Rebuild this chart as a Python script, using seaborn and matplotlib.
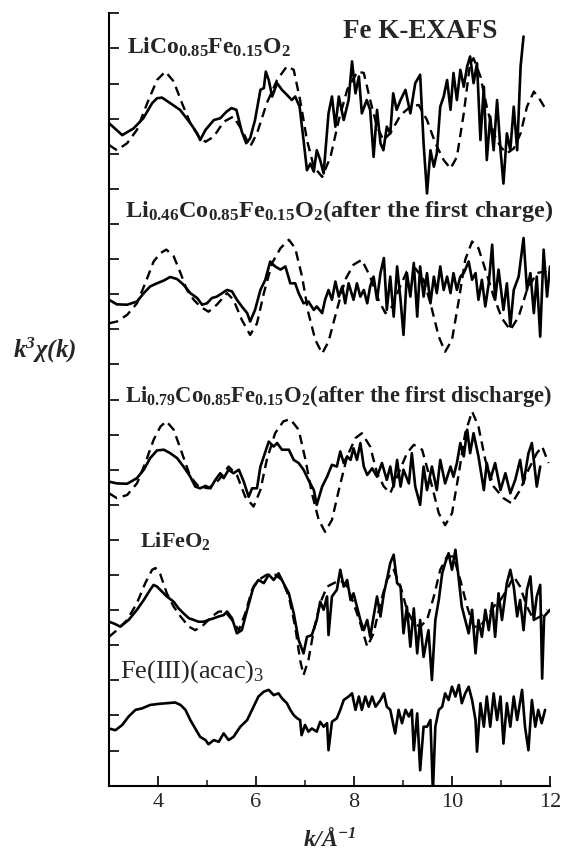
import matplotlib
matplotlib.use("Agg")
import matplotlib.pyplot as plt
import seaborn as sns
import pandas as pd
from matplotlib.ticker import MultipleLocator

# --- data: k (1/A) and k^3 chi(k) in arbitrary units ---
# LiCo0.85Fe0.15O2
k1_exp = [3.0, 3.27, 3.5, 3.7, 3.88, 3.98, 4.08, 4.25, 4.45, 4.66,
          4.8, 4.86, 4.97, 5.14, 5.27, 5.4, 5.5, 5.6, 5.71, 5.8,
          5.88, 5.98, 6.09, 6.16, 6.2, 6.26, 6.33, 6.43, 6.53, 6.63,
          6.73, 6.8, 6.89, 6.97, 7.04, 7.11, 7.18, 7.24, 7.31, 7.38,
          7.48, 7.55, 7.62, 7.69, 7.79, 7.89, 7.96, 8.03, 8.1, 8.16,
          8.26, 8.33, 8.4, 8.47, 8.54, 8.6, 8.67, 8.74, 8.8, 8.87,
          8.95, 9.05, 9.15, 9.25, 9.35, 9.42, 9.49, 9.56, 9.63, 9.69,
          9.76, 9.83, 9.9, 9.97, 10.03, 10.1, 10.17, 10.24, 10.31, 10.37,
          10.44, 10.51, 10.58, 10.65, 10.71, 10.78, 10.85, 10.92, 10.99, 11.05,
          11.12, 11.19, 11.26, 11.33, 11.4, 11.46]
chi1_exp = [-0.13, -0.47, -0.28, 0.01, 0.44, 0.58, 0.60, 0.44, 0.25, -0.13,
            -0.42, -0.61, -0.32, -0.04, 0.01, 0.20, 0.30, 0.25, -0.37, -0.70,
            -0.56, -0.04, 0.82, 0.87, 1.34, 1.10, 0.63, 1.01, 0.82, 0.68,
            0.53, 0.63, 0.34, -0.61, -1.47, -1.28, -1.51, -0.90, -1.18, -1.56,
            0.15, 0.63, -0.23, 0.63, -0.04, 0.53, 1.63, 0.72, 1.20, 0.15,
            0.53, 0.25, -1.09, 0.25, -0.70, -0.90, -0.23, -0.42, 0.72, 0.25,
            0.53, 0.82, 0.15, 1.01, 1.25, -0.70, -2.13, -0.90, -1.37, -0.99,
            0.34, 0.63, 1.10, 0.25, 1.30, 0.53, 1.39, 0.91, 1.49, 1.77,
            1.01, 1.58, -0.61, 0.91, -1.18, 0.06, -0.90, 0.53, -0.90, -1.85,
            -0.42, -0.90, 0.34, -0.90, 1.49, 2.34]
k1_fit = [3.0, 3.16, 3.37, 3.57, 3.78, 3.98, 4.15, 4.32, 4.49, 4.66,
          4.83, 4.97, 5.14, 5.34, 5.54, 5.71, 5.88, 6.02, 6.22, 6.43,
          6.63, 6.77, 6.9, 7.04, 7.18, 7.35, 7.52, 7.69, 7.86, 8.07,
          8.2, 8.33, 8.47, 8.6, 8.74, 8.95, 9.15, 9.32, 9.49, 9.66,
          9.83, 9.97, 10.1, 10.24, 10.37, 10.44, 10.58, 10.71, 10.85, 10.99,
          11.12, 11.26, 11.4, 11.53, 11.67, 11.8, 11.94]
chi1_fit = [-0.75, -0.90, -0.70, -0.32, 0.44, 1.10, 1.34, 1.06, 0.44, -0.13,
            -0.51, -0.66, -0.51, -0.09, 0.06, -0.32, -0.80, -0.42, 0.44, 1.10,
            1.49, 1.39, 0.53, -0.61, -1.37, -1.66, -1.09, -0.04, 0.82, 1.34,
            1.30, 0.53, -0.23, -0.61, -0.42, 0.10, 0.34, 0.39, -0.04, -0.70,
            -1.18, -1.42, -1.09, 0.15, 1.58, 1.72, 1.20, 0.34, -0.42, -0.80,
            -0.99, -0.85, -0.42, 0.34, 0.77, 0.53, 0.20]

# Li0.46Co0.85Fe0.15O2 (after the first charge)
k2_exp = [3.0, 3.16, 3.37, 3.57, 3.71, 3.84, 3.98, 4.12, 4.25, 4.39,
          4.52, 4.66, 4.8, 4.9, 5.0, 5.1, 5.2, 5.31, 5.41, 5.51,
          5.61, 5.71, 5.82, 5.88, 5.98, 6.09, 6.19, 6.29, 6.39, 6.5,
          6.6, 6.7, 6.8, 6.87, 6.97, 7.07, 7.18, 7.24, 7.35, 7.41,
          7.48, 7.55, 7.62, 7.69, 7.76, 7.82, 7.89, 7.99, 8.06, 8.13,
          8.2, 8.27, 8.33, 8.4, 8.47, 8.54, 8.61, 8.67, 8.74, 8.81,
          8.88, 8.95, 9.01, 9.08, 9.15, 9.22, 9.29, 9.35, 9.42, 9.49,
          9.56, 9.63, 9.69, 9.76, 9.83, 9.9, 9.97, 10.03, 10.1, 10.17,
          10.24, 10.34, 10.41, 10.48, 10.54, 10.61, 10.68, 10.75, 10.82, 10.88,
          10.95, 11.05, 11.12, 11.19, 11.26, 11.36, 11.46, 11.53, 11.6, 11.67,
          11.73, 11.8, 11.87, 11.94, 12.0]
chi2_exp = [-0.16, -0.29, -0.30, -0.21, 0.03, 0.22, 0.31, 0.39, 0.49, 0.43,
            0.27, 0.03, -0.11, -0.30, -0.26, -0.11, -0.07, 0.03, 0.12, 0.08,
            -0.16, -0.35, -0.54, -0.78, -0.45, 0.12, 0.41, 0.93, 0.79, 0.70,
            0.79, 0.31, 0.31, 0.03, -0.26, -0.21, -0.45, -0.35, -0.54, -0.16,
            0.12, -0.16, 0.36, -0.07, 0.22, -0.26, 0.31, -0.16, 0.31, -0.07,
            0.12, -0.26, 0.22, 0.50, -0.16, 0.60, 1.03, -0.45, 0.50, -0.64,
            0.79, -0.16, -1.16, 0.60, -0.07, 0.89, -0.64, 0.79, -0.07, 0.60,
            -0.26, 0.50, 0.03, 0.79, 0.12, 0.50, 0.03, 0.60, 0.12, 0.50,
            0.60, 0.93, 0.41, 0.60, -0.16, 0.41, -0.35, 0.31, 1.41, -0.16,
            0.70, -0.45, 0.31, -0.92, 0.12, 0.50, 1.60, 0.12, 0.60, -0.54,
            0.50, -1.21, 1.27, -0.07, 0.79]
k2_fit = [3.0, 3.16, 3.37, 3.57, 3.74, 3.91, 4.05, 4.17, 4.32, 4.46,
          4.59, 4.73, 4.86, 5.03, 5.2, 5.41, 5.54, 5.71, 5.88, 6.02,
          6.16, 6.33, 6.5, 6.67, 6.8, 6.94, 7.07, 7.21, 7.35, 7.48,
          7.65, 7.82, 7.99, 8.16, 8.33, 8.5, 8.64, 8.78, 8.91, 9.08,
          9.25, 9.42, 9.56, 9.73, 9.86, 10.0, 10.14, 10.27, 10.41, 10.54,
          10.68, 10.85, 11.02, 11.19, 11.36, 11.53, 11.73, 11.9, 12.0]
chi2_fit = [-0.83, -0.78, -0.59, -0.26, 0.31, 0.93, 1.17, 1.27, 1.08, 0.60,
            0.12, -0.16, -0.35, -0.50, -0.30, 0.03, -0.16, -0.73, -1.16, -0.83,
            0.03, 0.89, 1.31, 1.55, 1.31, 0.50, -0.54, -1.30, -1.69, -1.35,
            -0.45, 0.41, 0.84, 0.98, 0.50, -0.16, -0.54, -0.35, 0.12, 0.65,
            0.74, 0.41, -0.26, -1.21, -1.64, -1.30, -0.16, 0.98, 1.50, 1.31,
            0.70, -0.07, -0.69, -1.02, -0.64, 0.12, 0.60, 0.65, 0.41]

# Li0.79Co0.85Fe0.15O2 (after the first discharge)
k3_exp = [3.0, 3.16, 3.37, 3.57, 3.71, 3.84, 3.98, 4.12, 4.25, 4.39,
          4.52, 4.66, 4.76, 4.86, 4.97, 5.07, 5.17, 5.27, 5.34, 5.44,
          5.54, 5.65, 5.75, 5.85, 5.92, 6.02, 6.09, 6.16, 6.26, 6.36,
          6.43, 6.53, 6.67, 6.77, 6.87, 6.97, 7.07, 7.18, 7.24, 7.35,
          7.45, 7.55, 7.65, 7.72, 7.79, 7.86, 7.93, 7.99, 8.06, 8.13,
          8.2, 8.27, 8.37, 8.47, 8.57, 8.67, 8.74, 8.81, 8.88, 8.95,
          9.01, 9.12, 9.18, 9.25, 9.35, 9.42, 9.49, 9.59, 9.69, 9.76,
          9.86, 9.97, 10.03, 10.1, 10.17, 10.24, 10.31, 10.37, 10.44, 10.54,
          10.65, 10.71, 10.78, 10.88, 10.99, 11.09, 11.19, 11.29, 11.39, 11.46,
          11.56, 11.63, 11.73, 11.8]
chi3_exp = [-0.04, -0.09, -0.10, 0.06, 0.30, 0.63, 0.85, 0.87, 0.77, 0.63,
            0.39, 0.10, -0.18, -0.23, -0.16, -0.23, 0.01, 0.20, 0.06, 0.30,
            0.20, 0.30, -0.04, -0.47, -0.23, -0.23, 0.39, 0.68, 1.10, 0.96,
            1.06, 0.87, 0.87, 0.58, 0.49, 0.30, 0.01, -0.28, -0.70, -0.18,
            0.10, 0.44, 0.39, 0.82, 0.49, 0.68, 0.58, 0.91, 0.58, 1.06,
            0.39, 0.15, 0.34, 0.10, 0.49, 0.01, 0.39, -0.18, 0.58, -0.18,
            0.30, -0.09, 0.77, -0.18, -0.70, 0.39, -0.28, 0.39, -0.28, 0.58,
            -0.09, 0.39, 0.10, 0.49, 1.06, 0.68, 1.44, 0.77, 1.34, 0.68,
            -0.28, 0.49, 0.01, 0.49, -0.28, 0.20, -0.37, 0.01, 0.58, -0.09,
            0.77, 1.06, -0.18, 0.39]
k3_fit = [3.0, 3.16, 3.37, 3.57, 3.74, 3.91, 4.05, 4.17, 4.32, 4.49,
          4.66, 4.83, 5.03, 5.24, 5.44, 5.61, 5.78, 5.95, 6.09, 6.22,
          6.39, 6.56, 6.7, 6.87, 7.01, 7.14, 7.28, 7.41, 7.55, 7.69,
          7.86, 8.03, 8.16, 8.33, 8.47, 8.61, 8.74, 8.91, 9.08, 9.22,
          9.39, 9.56, 9.73, 9.86, 10.0, 10.14, 10.27, 10.41, 10.54, 10.68,
          10.85, 11.05, 11.22, 11.39, 11.56, 11.73, 11.84, 11.97]
chi3_fit = [-0.37, -0.51, -0.42, -0.09, 0.49, 1.15, 1.53, 1.68, 1.44, 0.77,
            0.10, -0.18, -0.23, 0.01, 0.39, 0.15, -0.47, -0.75, -0.28, 0.58,
            1.34, 1.68, 1.74, 1.44, 0.58, -0.37, -1.13, -1.47, -1.13, -0.28,
            0.68, 1.20, 1.34, 0.96, 0.20, -0.18, -0.37, 0.20, 0.77, 1.01,
            0.87, 0.01, -0.94, -1.28, -0.94, 0.20, 1.34, 1.96, 1.53, 0.58,
            -0.18, -0.51, -0.66, -0.28, 0.30, 0.77, 0.96, 0.49]

# LiFeO2
k4_exp = [3.0, 3.1, 3.23, 3.4, 3.57, 3.71, 3.84, 3.91, 3.98, 4.08,
          4.18, 4.32, 4.42, 4.52, 4.63, 4.73, 4.83, 4.93, 5.03, 5.14,
          5.24, 5.34, 5.41, 5.51, 5.61, 5.71, 5.82, 5.95, 6.05, 6.16,
          6.26, 6.36, 6.46, 6.56, 6.67, 6.77, 6.87, 6.97, 7.04, 7.14,
          7.24, 7.31, 7.38, 7.45, 7.48, 7.55, 7.65, 7.72, 7.79, 7.86,
          7.93, 7.99, 8.06, 8.13, 8.2, 8.27, 8.33, 8.4, 8.47, 8.54,
          8.61, 8.67, 8.74, 8.81, 8.88, 8.95, 9.01, 9.08, 9.15, 9.22,
          9.29, 9.35, 9.42, 9.52, 9.59, 9.66, 9.73, 9.8, 9.86, 9.93,
          10.0, 10.07, 10.14, 10.2, 10.27, 10.34, 10.41, 10.48, 10.54, 10.61,
          10.68, 10.75, 10.82, 10.88, 10.95, 11.02, 11.12, 11.19, 11.26, 11.33,
          11.39, 11.46, 11.53, 11.6, 11.67, 11.73, 11.8, 11.84, 11.88, 12.0]
chi4_exp = [-0.05, -0.10, -0.19, 0.00, 0.29, 0.57, 0.86, 1.00, 0.95, 0.81,
            0.67, 0.52, 0.33, 0.19, 0.05, 0.00, -0.05, -0.05, 0.00, 0.05,
            0.10, 0.14, 0.24, 0.05, -0.38, -0.29, 0.29, 0.95, 1.14, 1.05,
            1.29, 1.14, 1.33, 1.05, 0.76, 0.19, -0.57, -0.95, -0.48, -0.43,
            0.00, 0.52, 0.29, 0.67, -0.43, 0.67, 0.86, 1.43, 0.95, 1.14,
            0.57, 0.76, 0.38, 0.00, -0.29, 0.00, -0.48, 0.10, 0.67, 0.10,
            0.76, 1.14, 1.62, 1.86, 1.05, 0.95, -0.38, 0.38, -0.76, 0.33,
            -0.95, 0.00, -1.05, -0.29, -1.71, 0.00, 0.57, 1.33, 1.62, 1.90,
            1.43, 2.00, 1.14, 0.38, 0.00, -0.38, 0.29, -0.95, 0.00, -0.48,
            0.29, -0.29, 0.48, -0.48, 0.76, 0.00, 1.05, 1.43, 0.95, 0.10,
            0.57, -0.29, 0.86, 1.24, 0.00, 0.67, 1.00, -1.67, 0.10, 0.29]
k4_fit = [3.0, 3.16, 3.37, 3.57, 3.74, 3.88, 3.95, 4.05, 4.18, 4.32,
          4.46, 4.63, 4.76, 4.93, 5.1, 5.24, 5.37, 5.51, 5.65, 5.78,
          5.92, 6.05, 6.22, 6.39, 6.53, 6.67, 6.8, 6.9, 6.97, 7.07,
          7.18, 7.31, 7.45, 7.59, 7.72, 7.86, 7.99, 8.13, 8.27, 8.4,
          8.54, 8.67, 8.81, 8.95, 9.08, 9.22, 9.35, 9.49, 9.63, 9.76,
          9.9, 10.03, 10.17, 10.31, 10.44, 10.58, 10.71, 10.85, 10.99, 11.12,
          11.26, 11.39, 11.53, 11.67, 11.8, 11.94]
chi4_fit = [-0.48, -0.29, 0.00, 0.48, 1.05, 1.43, 1.48, 1.29, 0.76, 0.38,
            0.10, -0.19, -0.29, -0.14, 0.10, 0.24, 0.24, 0.00, -0.29, 0.19,
            0.86, 1.14, 1.29, 1.29, 1.14, 0.67, -0.19, -1.14, -1.57, -1.14,
            -0.29, 0.48, 0.95, 1.05, 1.14, 0.95, 0.48, -0.10, -0.76, -0.38,
            0.48, 1.14, 1.43, 0.95, 0.29, -0.10, -0.19, 0.00, 0.67, 1.43,
            1.81, 1.81, 1.14, 0.38, -0.19, -0.19, 0.10, 0.38, 0.57, 0.86,
            1.24, 0.95, 0.38, 0.00, 0.10, 0.29]

# Fe(III)(acac)3 reference
k5_exp = [3.0, 3.13, 3.27, 3.4, 3.54, 3.67, 3.84, 4.01, 4.18, 4.35,
          4.46, 4.56, 4.66, 4.76, 4.86, 4.97, 5.03, 5.14, 5.24, 5.34,
          5.44, 5.54, 5.68, 5.82, 5.95, 6.05, 6.16, 6.26, 6.36, 6.46,
          6.53, 6.63, 6.7, 6.77, 6.84, 6.9, 6.93, 7.0, 7.07, 7.14,
          7.24, 7.31, 7.38, 7.45, 7.48, 7.55, 7.65, 7.72, 7.79, 7.89,
          7.96, 8.03, 8.1, 8.16, 8.23, 8.3, 8.37, 8.44, 8.54, 8.61,
          8.67, 8.74, 8.84, 8.91, 8.98, 9.05, 9.12, 9.18, 9.22, 9.29,
          9.35, 9.42, 9.49, 9.56, 9.61, 9.66, 9.73, 9.8, 9.86, 9.93,
          10.0, 10.07, 10.14, 10.2, 10.27, 10.34, 10.41, 10.48, 10.51, 10.58,
          10.65, 10.71, 10.78, 10.85, 10.92, 10.99, 11.05, 11.12, 11.19, 11.26,
          11.33, 11.43, 11.49, 11.56, 11.63, 11.7, 11.76, 11.83, 11.9]
chi5_exp = [-0.05, -0.10, 0.05, 0.29, 0.48, 0.52, 0.62, 0.65, 0.67, 0.69,
            0.62, 0.48, 0.19, -0.05, -0.29, -0.38, -0.50, -0.38, -0.43, -0.19,
            -0.38, -0.29, 0.00, 0.19, 0.57, 0.86, 1.00, 1.05, 0.90, 0.95,
            0.81, 0.67, 0.48, 0.33, 0.24, 0.19, -0.24, 0.05, -0.14, -0.05,
            -0.14, 0.14, 0.00, 0.10, -0.67, 0.14, 0.24, 0.48, 0.76, 0.86,
            0.95, 0.48, 0.86, 0.48, 0.86, 0.57, 0.86, 0.57, 0.76, 0.95,
            0.57, 0.48, -0.19, 0.48, 0.10, 0.48, 0.29, 0.48, -0.67, 0.38,
            -1.24, 0.00, 0.00, 0.19, -1.86, 0.00, 0.48, 0.57, 0.95, 0.76,
            1.14, 0.86, 1.19, 0.67, 0.95, 1.14, 0.76, 0.19, -0.71, 0.67,
            0.00, 0.86, 0.00, 0.95, 0.19, 0.86, -0.48, 0.67, 0.00, 0.86,
            0.19, 1.05, 0.00, -0.67, 0.76, 0.00, 0.48, 0.10, 0.48]

# vertical offsets of the stacked spectra
offsets = [19.0, 14.0, 8.7, 4.72, 1.68]

labels = [r"LiCo$_{\mathbf{0.85}}$Fe$_{\mathbf{0.15}}$O$_{\mathbf{2}}$",
          r"Li$_{\mathbf{0.46}}$Co$_{\mathbf{0.85}}$Fe$_{\mathbf{0.15}}$O$_{\mathbf{2}}$(after the first charge)",
          r"Li$_{\mathbf{0.79}}$Co$_{\mathbf{0.85}}$Fe$_{\mathbf{0.15}}$O$_{\mathbf{2}}$(after the first discharge)",
          r"LiFeO$_{\mathbf{2}}$",
          r"Fe(III)(acac)$_{\mathrm{3}}$"]
label_k = [3.37, 3.33, 3.33, 3.64, 3.23]
label_y = [20.84, 16.19, 10.94, 6.79, 3.08]
label_size = [17, 17.5, 16.3, 16, 19]

exp_k = [k1_exp, k2_exp, k3_exp, k4_exp, k5_exp]
exp_chi = [chi1_exp, chi2_exp, chi3_exp, chi4_exp, chi5_exp]
fit_k = [k1_fit, k2_fit, k3_fit, k4_fit]
fit_chi = [chi1_fit, chi2_fit, chi3_fit, chi4_fit]

sns.set_style("ticks")
plt.rcParams["font.family"] = ["Liberation Serif", "DejaVu Serif"]
plt.rcParams["mathtext.fontset"] = "custom"
plt.rcParams["mathtext.rm"] = "Liberation Serif"
plt.rcParams["mathtext.bf"] = "Liberation Serif:bold"
plt.rcParams["mathtext.it"] = "Liberation Serif:italic"
plt.rcParams["mathtext.bfit"] = "Liberation Serif:italic:bold"

fig = plt.figure(figsize=(5.64, 8.52), dpi=100)
ax = fig.add_axes([109 / 564, 66.3 / 852, 441 / 564, 772.4 / 852])

# dashed = fit, drawn first so the experimental curve sits on top
for i in range(len(fit_k)):
    df = pd.DataFrame({"k": fit_k[i], "y": [v + offsets[i] for v in fit_chi[i]]})
    sns.lineplot(data=df, x="k", y="y", ax=ax, color="black", lw=1.7,
                 linestyle=(0, (4, 2.5)), estimator=None, sort=False, zorder=2)

for i in range(len(exp_k)):
    df = pd.DataFrame({"k": exp_k[i], "y": [v + offsets[i] for v in exp_chi[i]]})
    sns.lineplot(data=df, x="k", y="y", ax=ax, color="black", lw=1.9,
                 estimator=None, sort=False, zorder=3)

for i, txt in enumerate(labels):
    weight = "normal" if i == 4 else "bold"
    ax.text(label_k[i], label_y[i], txt, fontsize=label_size[i],
            fontweight=weight, va="baseline", ha="left")

ax.text(9.35, 21.48, "Fe K-EXAFS", fontsize=19.5, fontweight="bold",
        ha="center", va="center")

ax.set_xlim(3, 12)
ax.set_ylim(0, 22)
ax.xaxis.set_major_locator(MultipleLocator(2))
ax.xaxis.set_minor_locator(MultipleLocator(1))
ax.yaxis.set_major_locator(MultipleLocator(1))
ax.set_yticklabels([])
ax.tick_params(axis="both", which="major", direction="in", length=7, width=1.2,
               labelsize=16, pad=5, color="black")
ax.tick_params(axis="x", which="minor", direction="in", length=4, width=1.2)
sns.despine(ax=ax)
for s in ["left", "bottom"]:
    ax.spines[s].set_linewidth(1.5)
    ax.spines[s].set_color("black")

ax.set_xlabel("")
ax.set_ylabel("")
ax.text(-0.145, 0.564, r"$\mathbfit{k^{3}\chi(k)}$", transform=ax.transAxes,
        fontsize=18, ha="center", va="center")
ax.text(0.5, -0.07, r"$\mathbfit{k/\AA^{-1}}$", transform=ax.transAxes,
        fontsize=17, ha="center", va="center")

fig.savefig("out.png", dpi=100)
